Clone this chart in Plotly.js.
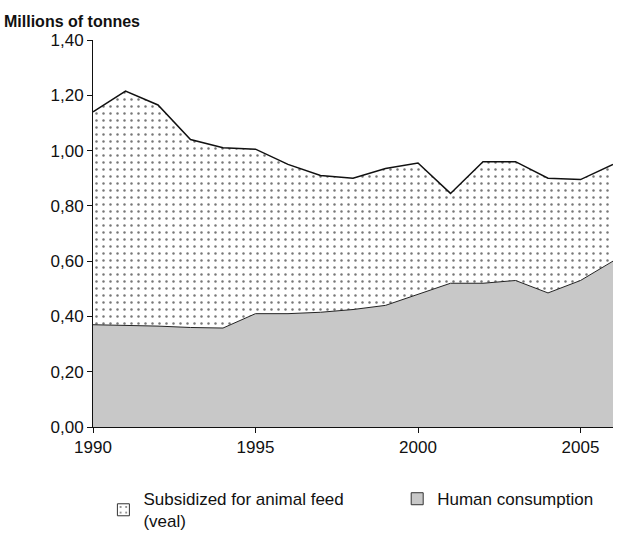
<!DOCTYPE html>
<html><head><meta charset="utf-8">
<script src="https://cdn.plot.ly/plotly-3.0.1.min.js"></script>
<style>body{margin:0;background:#fff}</style></head>
<body><div id="chart" style="width:621px;height:552px"></div>
<script>
// Values (millions of tonnes)
const years = [1990,1991,1992,1993,1994,1995,1996,1997,1998,1999,2000,2001,2002,2003,2004,2005,2006];
const human = [0.37,0.368,0.365,0.36,0.358,0.41,0.41,0.415,0.425,0.44,0.48,0.52,0.52,0.53,0.485,0.53,0.60];
const total = [1.14,1.215,1.165,1.04,1.01,1.005,0.95,0.91,0.90,0.935,0.955,0.845,0.96,0.96,0.90,0.895,0.95];
const feed = total.map((t, i) => +(t - human[i]).toFixed(3));
const yTicks = [0,0.2,0.4,0.6,0.8,1.0,1.2,1.4];

const dots = { shape: '.', fgcolor: '#777', bgcolor: '#fff', size: 7, solidity: 0.1 };

const traces = [
  { type: 'scatter', x: years, y: human, stackgroup: 'a', showlegend: false,
    mode: 'lines', line: { color: '#222', width: 1 }, fillcolor: '#c8c8c8' },
  { type: 'scatter', x: years, y: feed, stackgroup: 'a', showlegend: false,
    mode: 'lines', line: { color: '#111', width: 1.5 }, fillcolor: '#fff', fillpattern: dots },
  // legend-only boxes
  { type: 'bar', x: [null], y: [null], name: 'Subsidized for animal feed<br>(veal)', legend: 'legend',
    marker: { color: '#fff', pattern: dots, line: { color: '#333', width: 1 } } },
  { type: 'bar', x: [null], y: [null], name: 'Human consumption', legend: 'legend2',
    marker: { color: '#c8c8c8', line: { color: '#333', width: 1 } } },
];

const legendBase = { xanchor: 'left', yanchor: 'top', itemwidth: 30,
  font: { size: 17 }, bgcolor: 'rgba(0,0,0,0)' };

Plotly.newPlot('chart', traces, {
  width: 621, height: 552,
  paper_bgcolor: '#fff', plot_bgcolor: '#fff',
  font: { family: 'Liberation Sans, Arial, sans-serif', color: '#111', size: 17 },
  margin: { l: 93, r: 8, t: 40, b: 125, autoexpand: false },
  xaxis: { range: [1990, 2006], tickvals: [1990,1995,2000,2005], showgrid: false, zeroline: false,
    showline: true, linecolor: '#111', ticks: 'outside', ticklen: 5, tickcolor: '#111' },
  yaxis: { range: [0, 1.4], tickvals: yTicks, ticktext: yTicks.map(v => v.toFixed(2).replace('.', ',')),
    showgrid: false, zeroline: false, showline: true, linecolor: '#111', ticks: 'outside', ticklen: 5, tickcolor: '#111' },
  annotations: [{ text: '<b>Millions of tonnes</b>', xref: 'paper', yref: 'paper', x: -0.175, y: 1.02,
    xanchor: 'left', yanchor: 'bottom', showarrow: false, font: { size: 16 } }],
  legend: { ...legendBase, x: 0.02, y: -0.14 },
  legend2: { ...legendBase, x: 0.585, y: -0.14 },
}, { displayModeBar: false });
</script></body></html>
